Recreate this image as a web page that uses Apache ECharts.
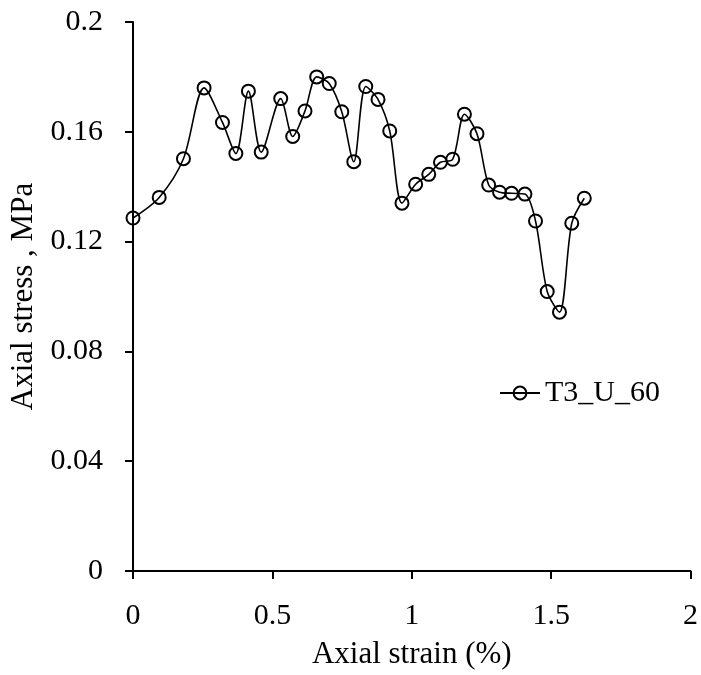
<!DOCTYPE html>
<html>
<head>
<meta charset="utf-8">
<script src="https://cdn.jsdelivr.net/npm/echarts@6/dist/echarts.min.js"></script>
<style>
html, body { margin: 0; padding: 0; background: #fff; }
#main { width: 701px; height: 675px; }
</style>
</head>
<body>
<div id="main"></div>
<script>
// 数据
var seriesName = 'T3_U_60';
var strain = [0, 0.094, 0.181, 0.255, 0.321, 0.369, 0.414, 0.460, 0.530, 0.573,
	0.617, 0.659, 0.704, 0.749, 0.792, 0.835, 0.879, 0.921, 0.965, 1.014,
	1.061, 1.103, 1.147, 1.189, 1.234, 1.276, 1.315, 1.358, 1.406, 1.444,
	1.486, 1.530, 1.574, 1.619];
var stress = [0.1286, 0.1361, 0.1502, 0.1760, 0.1634, 0.1521, 0.1748, 0.1526, 0.1721, 0.1583,
	0.1676, 0.1800, 0.1776, 0.1673, 0.1491, 0.1765, 0.1718, 0.1603, 0.1340, 0.1409,
	0.1445, 0.1489, 0.1500, 0.1664, 0.1593, 0.1406, 0.1380, 0.1376, 0.1373, 0.1275,
	0.1018, 0.0943, 0.1267, 0.1358];

var xName = 'Axial strain (%)';
var yName = 'Axial stress , MPa';

var points = [];
for (var i = 0; i < strain.length; i++) {
	points.push([strain[i], stress[i]]);
}

var font = 'Liberation Serif';
var axisCommon = {
	axisLine : { show : true, onZero : false, lineStyle : { color : '#000', width : 2 } },
	axisTick : { show : true, inside : false, length : 8, lineStyle : { color : '#000', width : 2 } },
	splitLine : { show : false },
	axisLabel : { color : '#000', fontFamily : font, fontSize : 30, margin : 30 },
	nameTextStyle : { color : '#000', fontFamily : font, fontSize : 31 }
};

var chart = echarts.init(document.getElementById('main'));
var option = {
	backgroundColor : '#fff',
	animation : false,
	grid : { left : 133, right : 10, top : 22, bottom : 103, containLabel : false },
	legend : {
		data : [ seriesName ],
		left : 499,
		top : 378,
		padding : 0,
		itemWidth : 40,
		itemHeight : 16,
		itemGap : 5,
		textStyle : { color : '#000', fontFamily : font, fontSize : 30 }
	},
	xAxis : echarts.util.merge({
		type : 'value',
		min : 0,
		max : 2,
		interval : 0.5,
		name : xName,
		nameLocation : 'middle',
		nameGap : 68
	}, axisCommon, true),
	yAxis : echarts.util.merge({
		type : 'value',
		min : 0,
		max : 0.2,
		interval : 0.04,
		name : yName,
		nameLocation : 'middle',
		nameGap : 92
	}, axisCommon, true),
	series : [ {
		name : seriesName,
		type : 'line',
		data : points,
		smooth : 0.3,
		symbol : 'circle',
		symbolSize : 13,
		showAllSymbol : true,
		lineStyle : { color : '#000', width : 1.6 },
		itemStyle : { color : 'none', borderColor : '#000', borderWidth : 2 }
	} ]
};
chart.setOption(option);
</script>
</body>
</html>
